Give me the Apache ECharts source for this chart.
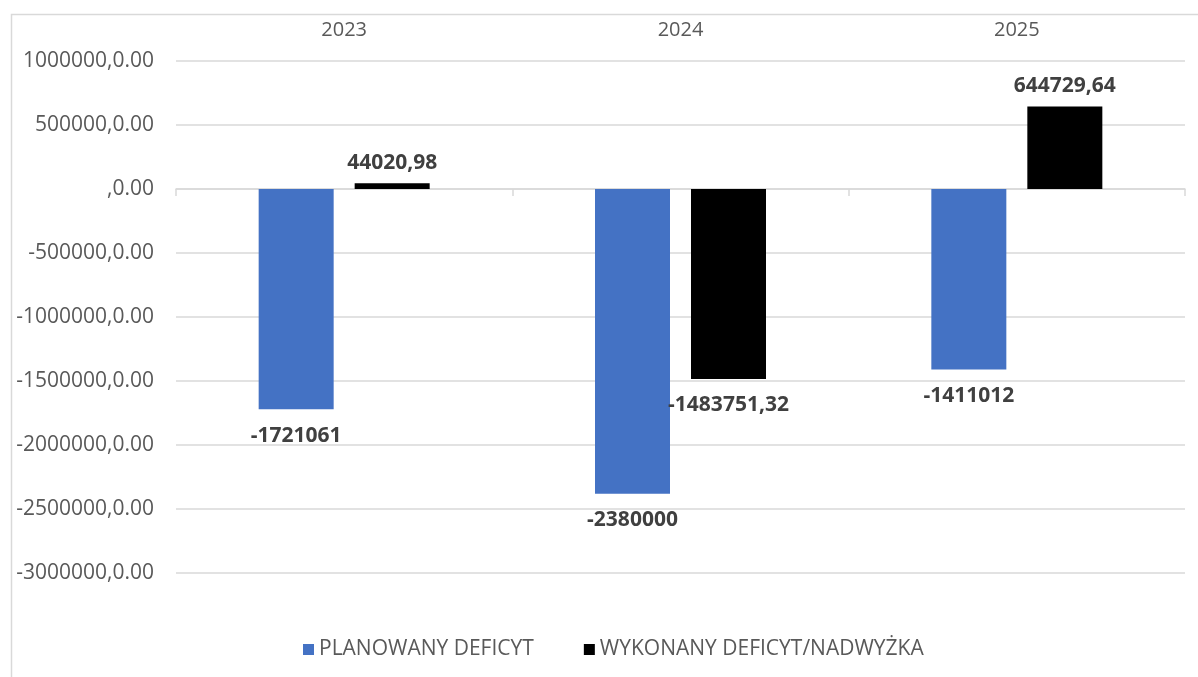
<!DOCTYPE html>
<html>
<head>
<meta charset="utf-8">
<script src="https://cdn.jsdelivr.net/npm/echarts@6/dist/echarts.min.js"></script>
<style>
html,body{margin:0;padding:0;background:#fff;}
#chart{width:1198px;height:677px;}
</style>
</head>
<body>
<div id="chart"></div>
<script>
const categories = ['2023', '2024', '2025'];
const planned = [-1721061, -2380000, -1411012];
const actual = [44020.98, -1483751.32, 644729.64];
const seriesNames = ['PLANOWANY DEFICYT', 'WYKONANY DEFICYT/NADWYŻKA'];
const yMin = -3000000, yMax = 1000000, yStep = 500000;

const fmtVal = v => String(v).replace('.', ',');
const lblStyle = {
  show: true, color: '#404040', fontFamily: 'Open Sans',
  fontWeight: 'bold', fontSize: 21, formatter: p => fmtVal(p.value)
};
const mk = arr => arr.map(v => ({
  value: v,
  label: { position: v < 0 ? 'bottom' : 'top', distance: v < 0 ? 16 : 10 }
}));

const chart = echarts.init(document.getElementById('chart'), null, { renderer: 'canvas' });
chart.setOption({
  animation: false,
  textStyle: { fontFamily: 'Open Sans' },
  graphic: [{
    type: 'rect', left: 9, top: 12, shape: { width: 1300, height: 800 },
    style: { fill: 'none', stroke: '#d9d9d9', lineWidth: 1.5 }, silent: true
  }],
  grid: { left: 176, right: 13, top: 61, bottom: 104, containLabel: false },
  legend: {
    left: 298, top: 634, itemWidth: 11, itemHeight: 11, itemGap: 50,
    icon: 'rect',
    textStyle: { color: '#595959', fontSize: 21, fontFamily: 'Open Sans' },
    data: seriesNames
  },
  xAxis: [{
    type: 'category', data: categories, position: 'bottom',
    axisLine: { onZero: true, lineStyle: { color: '#d9d9d9', width: 1.5 } },
    axisTick: { show: true, length: 7, lineStyle: { color: '#d9d9d9', width: 1.5 } },
    axisLabel: { show: false }
  }, {
    type: 'category', data: categories, position: 'top',
    axisLine: { show: false, onZero: false }, axisTick: { show: false },
    axisLabel: { color: '#595959', fontSize: 20, fontFamily: 'Open Sans', margin: 21 }
  }],
  yAxis: {
    type: 'value', min: yMin, max: yMax, interval: yStep,
    axisLine: { show: false }, axisTick: { show: false },
    splitLine: { lineStyle: { color: '#d9d9d9', width: 1.5 } },
    axisLabel: {
      color: '#595959', fontSize: 21, fontFamily: 'Open Sans', margin: 22,
      formatter: v => (v === 0 ? '' : String(v)) + ',0.00'
    }
  },
  series: [{
    name: seriesNames[0], type: 'bar', xAxisIndex: 0, data: mk(planned),
    itemStyle: { color: '#4472C4' }, barWidth: 75, barGap: '28%',
    label: lblStyle
  }, {
    name: seriesNames[1], type: 'bar', xAxisIndex: 0, data: mk(actual),
    itemStyle: { color: '#000000' }, barWidth: 75, barGap: '28%',
    label: lblStyle
  }]
});
</script>
</body>
</html>
